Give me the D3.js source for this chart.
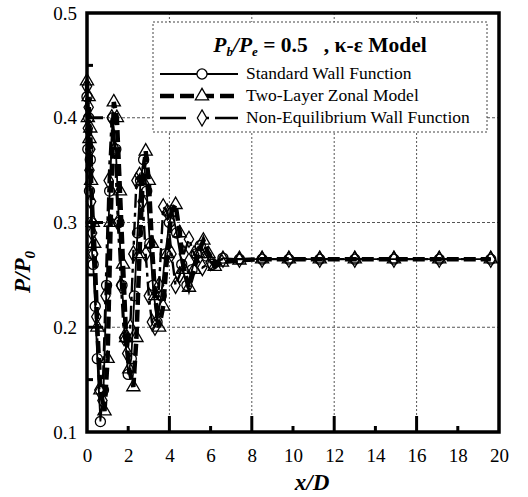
<!DOCTYPE html>
<html><head><meta charset="utf-8">
<script src="https://cdn.jsdelivr.net/npm/d3@7"></script>
<style>body{margin:0;background:#fff}svg{display:block}</style>
</head><body><div id="chart"></div>
<script>
const xTicks = [0,2,4,6,8,10,12,14,16,18,20];
const yTicks = [0.1,0.2,0.3,0.4,0.5];
const seriesNames = ["Standard Wall Function","Two-Layer Zonal Model","Non-Equilibrium Wall Function"];

const stdX = [0,0.04,0.08,0.12,0.16,0.2,0.25,0.3,0.4,0.5,0.65,0.8,0.95,1.1,1.25,1.4,1.55,1.7,1.85,2.0,2.15,2.3,2.45,2.6,2.75,2.9,3.05,3.2,3.4,3.6,3.8,4.0,4.15,4.35,4.6,4.85,5.1,5.3,5.5,5.8,6.1,6.6,7.4,8.5,9.8,11.3,13.0,14.9,17.1,19.6];
const stdY = [0.42,0.37,0.40,0.33,0.36,0.30,0.27,0.26,0.22,0.17,0.11,0.14,0.24,0.33,0.40,0.37,0.30,0.24,0.19,0.155,0.17,0.23,0.29,0.34,0.36,0.33,0.28,0.24,0.205,0.23,0.27,0.30,0.31,0.29,0.26,0.24,0.255,0.27,0.278,0.268,0.26,0.266,0.265,0.265,0.265,0.265,0.265,0.265,0.265,0.265];

const tlX = [0,0.04,0.08,0.12,0.16,0.2,0.28,0.35,0.5,0.65,0.85,1.0,1.15,1.3,1.45,1.6,1.75,1.9,2.05,2.25,2.4,2.55,2.7,2.85,3.0,3.15,3.3,3.5,3.7,3.9,4.1,4.3,4.5,4.7,4.95,5.2,5.4,5.65,5.9,6.2,6.55,7.4,8.5,9.8,11.3,13.0,14.9,17.1,19.6];
const tlY = [0.435,0.40,0.42,0.38,0.39,0.34,0.30,0.28,0.20,0.14,0.12,0.17,0.30,0.415,0.40,0.33,0.26,0.19,0.16,0.143,0.19,0.27,0.34,0.368,0.34,0.28,0.23,0.20,0.22,0.27,0.31,0.317,0.29,0.255,0.238,0.255,0.27,0.283,0.27,0.258,0.262,0.264,0.265,0.265,0.265,0.265,0.265,0.265,0.265];

const neX = [0,0.04,0.08,0.12,0.16,0.2,0.25,0.3,0.45,0.6,0.75,0.9,1.05,1.2,1.35,1.5,1.65,1.8,1.95,2.1,2.25,2.4,2.55,2.7,2.85,3.0,3.15,3.3,3.5,3.7,3.9,4.1,4.3,4.5,4.7,4.95,5.2,5.6,6.0,6.6,7.4,8.5,9.8,11.3,13.0,14.9,17.1,19.6];
const neY = [0.43,0.39,0.41,0.35,0.37,0.32,0.29,0.27,0.21,0.14,0.13,0.23,0.34,0.40,0.37,0.30,0.24,0.19,0.175,0.20,0.27,0.34,0.345,0.32,0.27,0.23,0.205,0.20,0.24,0.315,0.31,0.27,0.24,0.25,0.27,0.284,0.27,0.257,0.262,0.265,0.265,0.265,0.265,0.265,0.265,0.265,0.265,0.265];

const SERIF = "'Liberation Serif','Times New Roman',serif";
const W = 528, H = 497;
const m = {l:87, r:29, t:13, b:65};
const svg = d3.select("#chart").append("svg").attr("width",W).attr("height",H)
  .style("font-family",SERIF);
const x = d3.scaleLinear().domain([0,20]).range([m.l, W-m.r]);
const y = d3.scaleLinear().domain([0.1,0.5]).range([H-m.b, m.t]);

// grid
const grid = svg.append("g").attr("class","grid");
grid.selectAll("line.vg").data([4,8,12,16]).enter().append("line").attr("class","vg")
  .attr("x1",d=>x(d)).attr("x2",d=>x(d)).attr("y1",y(0.5)).attr("y2",y(0.1))
  .attr("stroke","#555").attr("stroke-width",1).attr("stroke-dasharray","2,2");
grid.selectAll("line.hg").data([0.2,0.3,0.4]).enter().append("line").attr("class","hg")
  .attr("x1",x(0)).attr("x2",x(20)).attr("y1",d=>y(d)).attr("y2",d=>y(d))
  .attr("stroke","#555").attr("stroke-width",1).attr("stroke-dasharray","3,2");

// axes labels
const xAxis = d3.axisBottom(x).tickValues(xTicks).tickSize(0).tickPadding(17).tickFormat(d3.format("d"));
const xa = svg.append("g").attr("transform",`translate(0,${y(0.1)})`).call(xAxis);
xa.select(".domain").remove();
xa.selectAll("text").style("font-size","19px").style("font-family",SERIF).attr("fill","#000");
const yAxis = d3.axisLeft(y).tickValues(yTicks).tickSize(0).tickPadding(10).tickFormat(d3.format(".1f"));
const ya = svg.append("g").attr("transform",`translate(${x(0)},0)`).call(yAxis);
ya.select(".domain").remove();
ya.selectAll("text").style("font-size","19px").style("font-family",SERIF).attr("fill","#000");

// inner ticks
const tk = svg.append("g").attr("class","inner-ticks");
tk.selectAll("line.xmaj").data([4,8,12,16]).enter().append("line").attr("class","xmaj")
  .attr("x1",d=>x(d)).attr("x2",d=>x(d)).attr("y1",y(0.1)).attr("y2",y(0.1)-16)
  .attr("stroke","#000").attr("stroke-width",3);
tk.selectAll("line.xmin").data([2,6,10,14,18]).enter().append("line").attr("class","xmin")
  .attr("x1",d=>x(d)).attr("x2",d=>x(d)).attr("y1",y(0.1)).attr("y2",y(0.1)-6)
  .attr("stroke","#000").attr("stroke-width",3);
tk.selectAll("line.ymaj").data([0.2,0.3,0.4]).enter().append("line").attr("class","ymaj")
  .attr("x1",x(0)).attr("x2",x(0)+16).attr("y1",d=>y(d)).attr("y2",d=>y(d))
  .attr("stroke","#000").attr("stroke-width",3);
tk.selectAll("line.ymin").data([0.15,0.25,0.35,0.45]).enter().append("line").attr("class","ymin")
  .attr("x1",x(0)).attr("x2",x(0)+6).attr("y1",d=>y(d)).attr("y2",d=>y(d))
  .attr("stroke","#000").attr("stroke-width",3);

// series
const series = [
  {xs:stdX, ys:stdY, w:1.8, dash:null, marker:"circle"},
  {xs:tlX, ys:tlY, w:4.5, dash:"12,5", marker:"triangle"},
  {xs:neX, ys:neY, w:2.4, dash:"14,5,4,5", marker:"diamond"}
];
const line = d3.line().x(d=>x(d[0])).y(d=>y(d[1]));
const symType = {circle:d3.symbolCircle, triangle:d3.symbolTriangle, diamond:d3.symbolDiamond};
const symSize = {circle:80, triangle:75, diamond:75};
series.forEach((s,k)=>{
  const pts = s.xs.map((v,i)=>[v,s.ys[i]]);
  const sg = svg.append("g").attr("class","series s"+k);
  sg.append("path").datum(pts).attr("d",line).attr("fill","none")
    .attr("stroke","#000").attr("stroke-width",s.w).attr("stroke-dasharray",s.dash);
  sg.selectAll("path.mk").data(pts).enter().append("path").attr("class","mk")
    .attr("transform",d=>`translate(${x(d[0])},${y(d[1])})`)
    .attr("d",d3.symbol().type(symType[s.marker]).size(symSize[s.marker]))
    .attr("fill","none").attr("stroke","#000").attr("stroke-width",1.3);
});

// frame
svg.append("rect").attr("x",x(0)).attr("y",y(0.5)).attr("width",x(20)-x(0)).attr("height",y(0.1)-y(0.5))
  .attr("fill","none").attr("stroke","#000").attr("stroke-width",3.5);

// legend
const lg = svg.append("g").attr("class","legend");
lg.append("rect").attr("x",153).attr("y",22).attr("width",334).attr("height",110)
  .attr("fill","#fff").attr("stroke","#444").attr("stroke-width",1).attr("stroke-dasharray","2,2");
const title = lg.append("text").attr("x",320).attr("y",52).attr("text-anchor","middle")
  .style("font-size","21.5px").attr("font-weight","bold");
title.append("tspan").attr("font-style","italic").text("P");
title.append("tspan").attr("font-style","italic").style("font-size","13px").attr("dy",4).text("b");
title.append("tspan").attr("dy",-4).attr("font-style","italic").text("/P");
title.append("tspan").attr("font-style","italic").style("font-size","13px").attr("dy",4).text("e");
title.append("tspan").attr("dy",-4).text("\u00a0= 0.5\u00a0\u00a0\u00a0, κ-ε Model");
const ly = [74,96,118];
series.forEach((s,i)=>{
  lg.append("line").attr("x1",160).attr("x2",238).attr("y1",ly[i]).attr("y2",ly[i])
    .attr("stroke","#000").attr("stroke-width",s.w)
    .attr("stroke-dasharray", i===0?null:(i===1?"14,6":"26,15,8,6"));
  lg.append("path").attr("transform",`translate(202,${ly[i]})`)
    .attr("d",d3.symbol().type(symType[s.marker]).size(symSize[s.marker]))
    .attr("fill","#fff").attr("stroke","#000").attr("stroke-width",1.3);
  lg.append("text").attr("x",246).attr("y",ly[i]+5).style("font-size","17.5px").text(seriesNames[i]);
});

// axis titles
svg.append("text").attr("x",312).attr("y",490).attr("text-anchor","middle")
  .style("font-size","23px").attr("font-weight","bold").attr("font-style","italic").text("x/D");
const yt = svg.append("text").attr("transform","translate(30,272) rotate(-90)").attr("text-anchor","middle")
  .style("font-size","23px").attr("font-weight","bold").attr("font-style","italic");
yt.append("tspan").text("P/P");
yt.append("tspan").style("font-size","15px").attr("dy",5).text("0");
</script></body></html>
